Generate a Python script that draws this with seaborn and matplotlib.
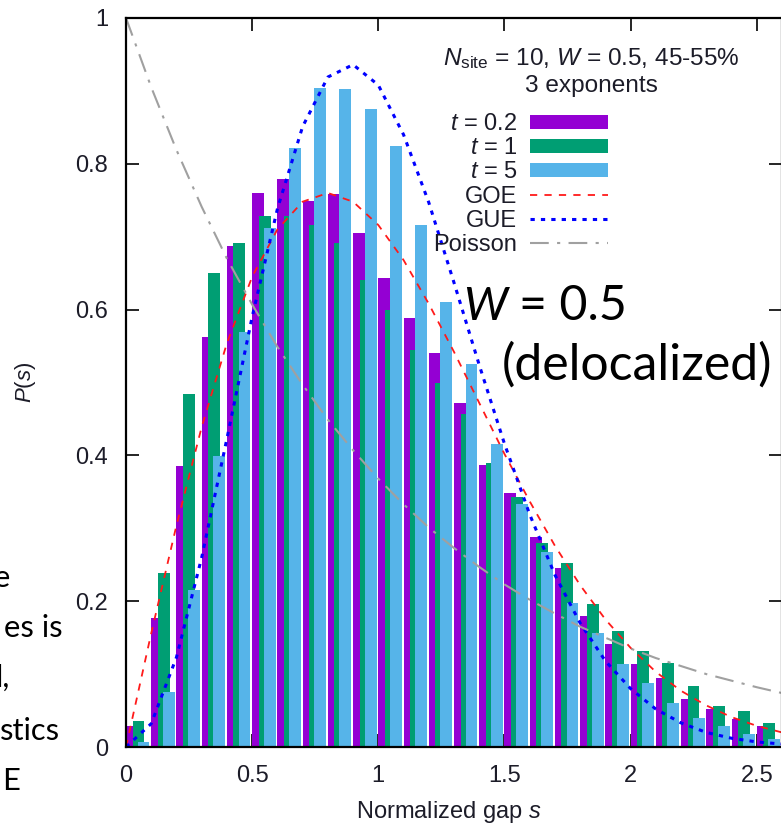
import numpy as np
import matplotlib
matplotlib.use("Agg")
import matplotlib.pyplot as plt
import seaborn as sns
from matplotlib.patches import Patch
from matplotlib.lines import Line2D

# ---------------- data ----------------
bin_starts = [0.0, 0.1, 0.2, 0.3, 0.4, 0.5, 0.6, 0.7, 0.8, 0.9,
              1.0, 1.1, 1.2, 1.3, 1.4, 1.5, 1.6, 1.7, 1.8, 1.9,
              2.0, 2.1, 2.2, 2.3, 2.4, 2.5]
p_t02 = [0.029, 0.177, 0.385, 0.562, 0.687, 0.760, 0.779, 0.749, 0.758, 0.705,
         0.644, 0.588, 0.541, 0.472, 0.387, 0.348, 0.288, 0.245, 0.180, 0.141,
         0.114, 0.095, 0.066, 0.052, 0.038, 0.029]
p_t1 = [0.036, 0.238, 0.484, 0.650, 0.692, 0.729, 0.729, 0.716, 0.692, 0.640,
        0.599, 0.544, 0.500, 0.457, 0.389, 0.343, 0.280, 0.253, 0.196, 0.159,
        0.132, 0.115, 0.084, 0.056, 0.049, 0.033]
p_t5 = [0.007, 0.075, 0.215, 0.399, 0.569, 0.712, 0.821, 0.904, 0.902, 0.875,
        0.824, 0.716, 0.610, 0.526, 0.415, 0.334, 0.268, 0.198, 0.157, 0.114,
        0.088, 0.060, 0.040, 0.029, 0.018, 0.011]

s_grid = [0.0, 0.1, 0.2, 0.3, 0.4, 0.5, 0.6, 0.7, 0.8, 0.9,
          1.0, 1.1, 1.2, 1.3, 1.4, 1.5, 1.6, 1.7, 1.8, 1.9,
          2.0, 2.1, 2.2, 2.3, 2.4, 2.5, 2.6]
goe = [0.0, 0.156, 0.304, 0.439, 0.554, 0.645, 0.710, 0.748, 0.760, 0.748,
       0.716, 0.668, 0.608, 0.542, 0.472, 0.402, 0.337, 0.276, 0.222, 0.175,
       0.136, 0.103, 0.077, 0.057, 0.041, 0.029, 0.020]
gue = [0.0, 0.032, 0.123, 0.260, 0.423, 0.590, 0.738, 0.851, 0.919, 0.936,
       0.908, 0.840, 0.747, 0.637, 0.524, 0.416, 0.319, 0.236, 0.170, 0.118,
       0.080, 0.052, 0.033, 0.020, 0.012, 0.007, 0.004]
poisson = [1.0, 0.905, 0.819, 0.741, 0.670, 0.607, 0.549, 0.497, 0.449, 0.407,
           0.368, 0.333, 0.301, 0.273, 0.247, 0.223, 0.202, 0.183, 0.165, 0.150,
           0.135, 0.122, 0.111, 0.100, 0.091, 0.082, 0.074]

series_labels = ["$t$ = 0.2", "$t$ = 1", "$t$ = 5"]
curve_labels = ["GOE", "GUE", "Poisson"]
x_ticks = [0, 0.5, 1, 1.5, 2, 2.5]
x_tick_labels = ["0", "0.5", "1", "1.5", "2", "2.5"]
y_ticks = [0, 0.2, 0.4, 0.6, 0.8, 1.0]
y_tick_labels = ["0", "0.2", "0.4", "0.6", "0.8", "1"]
legend_title_1 = r"$N_{\mathrm{site}}$ = 10, $W$ = 0.5, 45-55%"
legend_title_2 = "3 exponents"
left_fragments = ["e", "es is", "l,", "stics", "E"]

# ---------------- style ----------------
sns.set_style("ticks")
plt.rcParams['font.family'] = ['Liberation Sans', 'DejaVu Sans']
plt.rcParams['mathtext.fontset'] = 'custom'
plt.rcParams['mathtext.rm'] = 'Liberation Sans'
plt.rcParams['mathtext.it'] = 'Liberation Sans:italic'
plt.rcParams['mathtext.bf'] = 'Liberation Sans:bold'
plt.rcParams['axes.edgecolor'] = 'black'
plt.rcParams['axes.linewidth'] = 1.6

W, H = 781, 826
fig = plt.figure(figsize=(W / 100, H / 100), dpi=100)
fig.patch.set_facecolor('white')
ax = fig.add_axes([126 / W, (H - 747) / H, 656 / W, 729 / H])
ax.set_facecolor('white')

bar_colors = ['#9400d3', '#009e73', '#56b4e9']
offsets = [0.0, 0.026, 0.046]
bar_w = 0.047
for vals, off, col in zip([p_t02, p_t1, p_t5], offsets, bar_colors):
    xs = np.array(bin_starts) + off + bar_w / 2
    sns.barplot(x=xs, y=vals, native_scale=True, orient='x', width=bar_w / 0.1,
                color=col, saturation=1, linewidth=0, errorbar=None, ax=ax)

curve_styles = [
    dict(color='#ff1a1a', lw=1.3, linestyle=(0, (4, 4))),
    dict(color='#0000ff', lw=2.2, linestyle=(0, (1.4, 2.0))),
    dict(color='#a0a0a0', lw=1.5, linestyle=(0, (9, 4, 1.5, 4))),
]
for ys, st in zip([goe, gue, poisson], curve_styles):
    sns.lineplot(x=s_grid, y=ys, ax=ax, sort=False, estimator=None, **st)

ax.set_xlim(0, 2.6)
ax.set_ylim(0, 1)
ax.set_xticks(x_ticks, x_tick_labels)
ax.set_yticks(y_ticks, y_tick_labels)
ax.tick_params(direction='in', length=9.5, width=1.2, top=True, right=True,
               labelsize=17, pad=13, labelcolor='#1c1c28', color='black')
for sp in ax.spines.values():
    sp.set_visible(True)
    sp.set_linewidth(1.6)
    sp.set_color('black')

ax.set_xlabel("Normalized gap $s$", fontsize=17, color='#1c1c28')
ax.xaxis.set_label_coords(0.492, -0.0713)
ax.set_ylabel("$P$($s$)", fontsize=16, color='#1c1c28')
ax.yaxis.set_label_coords(-0.134, 0.5)

handles = [Patch(facecolor=c, edgecolor='none') for c in bar_colors] + \
          [Line2D([], [], **st) for st in curve_styles]
leg = ax.legend(handles, series_labels + curve_labels, loc='upper right',
                bbox_to_anchor=(0.7348, 0.8695), frameon=False, markerfirst=False,
                fontsize=17, handlelength=3.3, handleheight=0.53, handletextpad=0.55,
                labelspacing=0.09, borderpad=0, borderaxespad=0)
for t in leg.get_texts():
    t.set_color('#1c1c28')

ax.text(0.709, 0.9355, legend_title_1, transform=ax.transAxes, ha='center',
        va='baseline', fontsize=17.6, color='#1c1c28')
ax.text(0.709, 0.8985, legend_title_2, transform=ax.transAxes, ha='center',
        va='baseline', fontsize=17.6, color='#1c1c28')


def fit_width(t, target):
    fig.canvas.draw()
    r = fig.canvas.get_renderer()
    w = t.get_window_extent(r).width
    t.set_fontsize(t.get_fontsize() * target / w)


# slide annotation
deloc = fig.text(502 / W, 1 - 380 / H, "(delocalized)", family=['Lato', 'DejaVu Sans'],
                 fontsize=36, ha='left', va='baseline', color='black')
fit_width(deloc, 270)
fs = deloc.get_fontsize()
fig.text(463 / W, 1 - 320 / H, "W", family=['Lato', 'DejaVu Sans'], style='italic',
         fontsize=fs * 0.93, ha='left', va='baseline', color='black')
fig.text(627 / W, 1 - 320 / H, "= 0.5", family=['Lato', 'DejaVu Sans'],
         fontsize=fs * 0.97, ha='right', va='baseline', color='black')

# cropped slide text on the left edge
right_edges = [10, 63, 10, 60, 20]
baselines = [587, 637, 687, 740, 790]
frag_objs = []
for txt, rx, by in zip(left_fragments, right_edges, baselines):
    frag_objs.append(fig.text(rx / W, 1 - by / H, txt, family=['Lato', 'DejaVu Sans'],
                              fontsize=24, ha='right', va='baseline', color='black'))
fit_width(frag_objs[3], 60)
for f in frag_objs:
    f.set_fontsize(frag_objs[3].get_fontsize())

fig.savefig("out.png", dpi=100, facecolor='white')
